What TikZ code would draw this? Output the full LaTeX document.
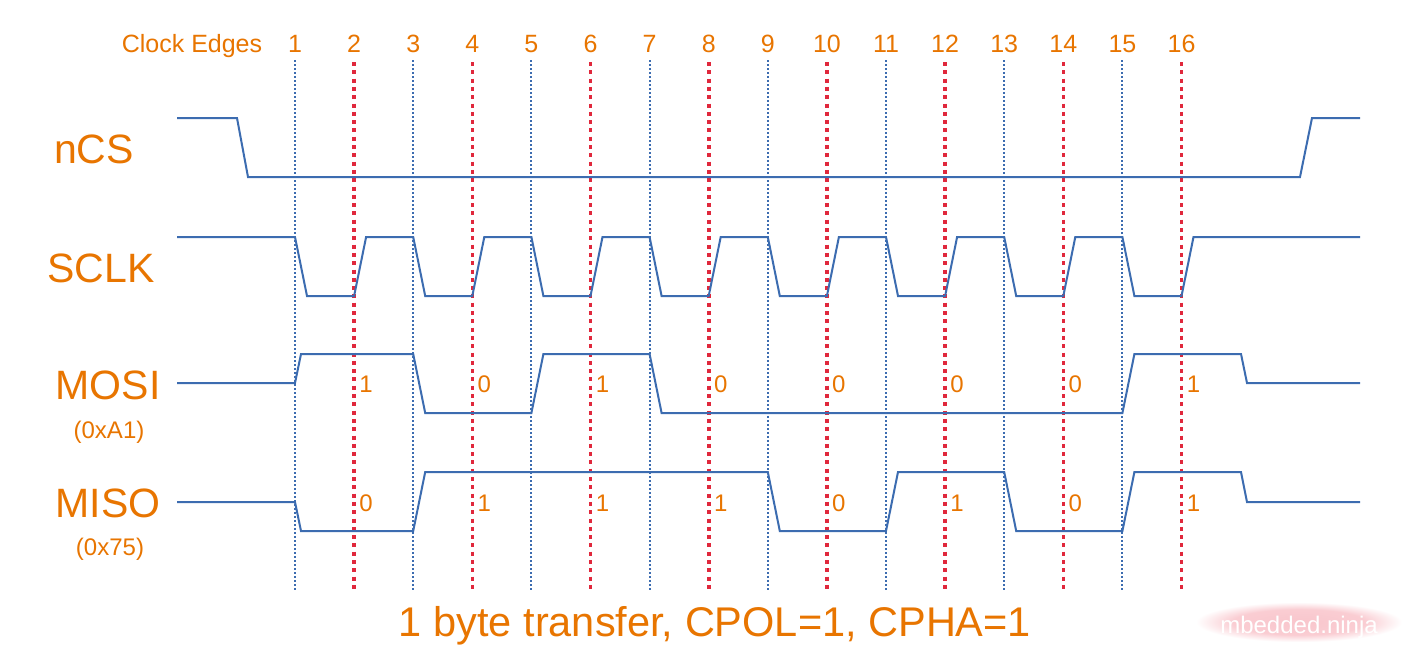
\documentclass[tikz,border=0pt]{standalone}
\usepackage{fontspec}
\setmainfont{Liberation Sans}
\usetikzlibrary{positioning, calc}
\definecolor{ninjaOrange}{HTML}{E87500}
\definecolor{ninjaBlue}{HTML}{3C6CB0}
\definecolor{ninjaRed}{HTML}{E0283C}
\definecolor{ninjaPink}{HTML}{F07080}
\newcommand{\fs}[1]{\fontsize{#1}{#1}\selectfont}
\pgfdeclareradialshading{halo}{\pgfpoint{0bp}{0bp}}{%
  color(0bp)=(ninjaPink!40); color(16bp)=(ninjaPink!35);
  color(25bp)=(white); color(50bp)=(white)}

\begin{document}
\begin{tikzpicture}[
  x=1pt, y=-1pt,
  txt/.style={text=ninjaOrange, inner sep=0pt, anchor=base},
  sg/.style={txt, font=\fs{41}},
  hx/.style={txt, font=\fs{24}},
  num/.style={txt, font=\fs{25}},
  bit/.style={txt, font=\fs{24}},
  wv/.style={draw=ninjaBlue, line width=2pt},
  oed/.style={draw=ninjaBlue, line width=2pt, dash pattern=on 2pt off 2pt},
  eed/.style={draw=ninjaRed, line width=3.6pt, dash pattern=on 4pt off 4.3pt},
  wm/.style={inner sep=0pt, anchor=base, font=\fs{24}}
]
\fill[white] (0,0) rectangle (1418,662);
\useasboundingbox (0,0) rectangle (1418,662);

% clock edge markers
\node[num] (edges) at (192,52) {Clock Edges};
\foreach \k in {1,3,...,15} {
  \node[num] (n\k) at ({295+(\k-1)*59.1},52) {\k};
  \coordinate (t\k) at ({295+(\k-1)*59.1},60);
  \coordinate (b\k) at ({295+(\k-1)*59.1},590);
  \draw[oed] (t\k) -- (b\k);
}
\foreach \k in {2,4,...,16} {
  \node[num] (n\k) at ({295+(\k-1)*59.1},52) {\k};
  \coordinate (t\k) at ({295+(\k-1)*59.1},62);
  \coordinate (b\k) at ({295+(\k-1)*59.1},590);
  \draw[eed] (t\k) -- (b\k);
}

% signal names
\node[sg] (ncs)  at (94,163)  {nCS};
\node[sg] (sclk) at (101,282) {SCLK};
\node[sg] (mosi) at (108,399) {MOSI};
\node[hx] (mosihex) at (109,438) {(0xA1)};
\node[sg] (miso) at (108,517) {MISO};
\node[hx] (misohex) at (110,555) {(0x75)};

% waveforms
\draw[wv] (177,118) -- (237,118) -- (248,177) -- (1300,177) -- (1312,118) -- (1360,118);
\draw[wv] (177,237)
  foreach \k in {0,...,7} {
    -- ({295+2*\k*59.1},237) -- ({307+2*\k*59.1},296)
    -- ({354.1+2*\k*59.1},296) -- ({366.1+2*\k*59.1},237)
  } -- (1360,237);
\draw[wv] (177,383) -- (295,383) -- (301,354) -- (413.2,354) -- (425.2,413)
  -- (531.4,413) -- (543.4,354) -- (649.6,354) -- (661.6,413) -- (1122.4,413)
  -- (1134.4,354) -- (1241,354) -- (1247,383) -- (1360,383);
\draw[wv] (177,502) -- (295,502) -- (301,531) -- (413.2,531) -- (425.2,472)
  -- (767.8,472) -- (779.8,531) -- (886,531) -- (898,472) -- (1004.2,472)
  -- (1016.2,531) -- (1122.4,531) -- (1134.4,472) -- (1241,472) -- (1247,502)
  -- (1360,502);

% data bits
\foreach \k/\mo/\mi in {2/1/0,4/0/1,6/1/1,8/0/1,10/0/0,12/0/1,14/0/0,16/1/1} {
  \node[bit] (mo\k) at ({307+(\k-1)*59.1},392) {\mo};
  \node[bit] (mi\k) at ({307+(\k-1)*59.1},511) {\mi};
}

\node[sg, font=\fs{41.5}] (title) at (715,636) {1 byte transfer, CPOL=1, CPHA=1};

% watermark
\shade[shading=halo] (1196,602) rectangle (1402,642);
\node[wm, text=white] (mark) at (1299,633) {mbedded.ninja};
\end{tikzpicture}
\end{document}
